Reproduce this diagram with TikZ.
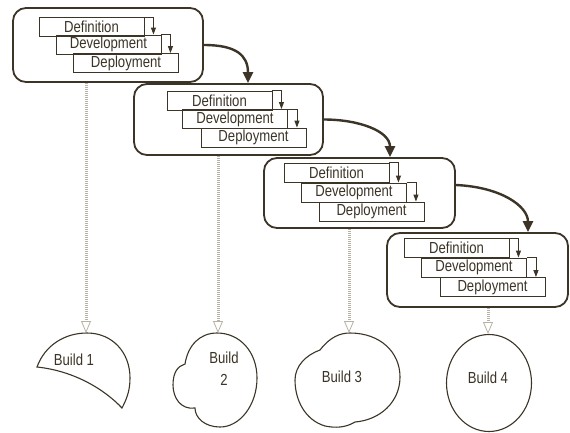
\documentclass[tikz,border=0pt]{standalone}
\usepackage{fontspec}
\setmainfont{Liberation Sans}
\newfontfamily\condfont[FakeStretch=0.82]{Liberation Sans}
\usetikzlibrary{arrows.meta}
\definecolor{ink}{HTML}{3B3427}
\definecolor{faint}{HTML}{B8B1A5}
\begin{document}
\begin{tikzpicture}[x=1pt,y=-1pt,
  group/.style={draw=ink, line width=1.8pt, rounded corners=13pt},
  phase/.style={draw=ink, line width=0.9pt, minimum width=105pt, minimum height=19pt, inner sep=0pt, text=ink, font=\condfont\fontsize{16}{18}\selectfont},
  stepar/.style={draw=ink, line width=0.9pt, -{Triangle[length=7pt,width=5pt]}},
  flow/.style={draw=ink, line width=2.4pt, -{Triangle[length=11pt,width=10pt]}},
  dotar/.style={draw=faint, line width=3pt, dash pattern=on 1pt off 1pt, -{Triangle[open,length=12pt,width=10pt,line width=0.8pt]}},
  build/.style={draw=ink, line width=1.1pt},
  btext/.style={text=ink, font=\condfont\fontsize{16}{18}\selectfont, inner sep=0pt, align=center}]
\fill[white] (0,0) rectangle (570,432);
\useasboundingbox (0,0) rectangle (570,432);

% groups
\node[group, minimum width=190pt, minimum height=74pt] (g1) at (108,45) {};
\node[group, minimum width=189pt, minimum height=71pt] (g2) at (228.5,119.5) {};
\node[group, minimum width=191pt, minimum height=70pt] (g3) at (359.5,193) {};
\node[group, minimum width=181pt, minimum height=74pt] (g4) at (477.5,270) {};

% phases
\node[phase] (def1) at (91.5,27) {Definition};
\node[phase] (dev1) at (108.5,44.5) {Development};
\node[phase] (dep1) at (126,63) {Deployment};
\node[phase] (def2) at (219.5,100.5) {Definition};
\node[phase] (dev2) at (235,119) {Development};
\node[phase] (dep2) at (253.5,137.5) {Deployment};
\node[phase] (def3) at (336.5,172.5) {Definition};
\node[phase] (dev3) at (354,192.5) {Development};
\node[phase] (dep3) at (371.5,211.5) {Deployment};
\node[phase] (def4) at (456.5,248) {Definition};
\node[phase] (dev4) at (474,267.5) {Development};
\node[phase] (dep4) at (492.5,287) {Deployment};

\foreach \i in {1,...,4}{
  \path (def\i.north east) ++(9,0) coordinate (sa\i);
  \path (dev\i.north east) ++(9,0) coordinate (sb\i);
  \draw[stepar] (def\i.north east) -| (sa\i |- dev\i.north);
  \draw[stepar] (dev\i.north east) -| (sb\i |- dep\i.north);
}

% flow arrows between groups
\draw[flow] (g1.east) .. controls +(32,0) and +(0,-28) .. (248,0 |- g2.north);
\draw[flow] (g2.east) .. controls +(35,0) and +(0,-26) .. (390,0 |- g3.north);
\draw[flow] ([yshift=8pt]g3.east) .. controls +(45,2) and +(0,-26) .. (528,0 |- g4.north);

% builds
\coordinate (b1) at (86,333);
\coordinate (b2) at (218,333);
\coordinate (b3) at (349,333);
\coordinate (b4) at (488,334);

\draw[build] (37,367) .. controls (45,345) and (65,333) .. (87,333)
  .. controls (112,333) and (130,352) .. (130,378)
  .. controls (130,392) and (126,400) .. (122,408)
  .. controls (105,390) and (75,371) .. cycle;
\node[btext] (t1) at (74,360) {Build 1};

\draw[build] (217,333) .. controls (240,333) and (257,352) .. (257,378)
  .. controls (257,405) and (240,427) .. (220,427)
  .. controls (205,427) and (195,418) .. (195,408)
  .. controls (181,410) and (173,398) .. (173,385)
  .. controls (173,372) and (178,366) .. (185,364)
  .. controls (188,345) and (200,333) .. cycle;
\node[btext] (t2) at (224,369) {Build\\[4pt]2};

\draw[build] (320,350) .. controls (330,337) and (340,333) .. (350,333)
  .. controls (380,333) and (400,352) .. (400,377)
  .. controls (400,402) and (380,420) .. (355,422)
  .. controls (345,428) and (335,428) .. (325,426)
  .. controls (305,420) and (295,400) .. (295,380)
  .. controls (295,366) and (306,355) .. cycle;
\node[btext] (t3) at (342,377) {Build 3};

\draw[build] (489,383) ellipse [x radius=42.5, y radius=48.5];
\node[btext] (t4) at (488,378) {Build 4};

% dotted delivery arrows
\draw[dotar] (g1.south -| b1) -- (b1);
\draw[dotar] (g2.south -| b2) -- (b2);
\draw[dotar] (g3.south -| b3) -- (b3);
\draw[dotar] (g4.south -| b4) -- (b4);
\end{tikzpicture}
\end{document}
